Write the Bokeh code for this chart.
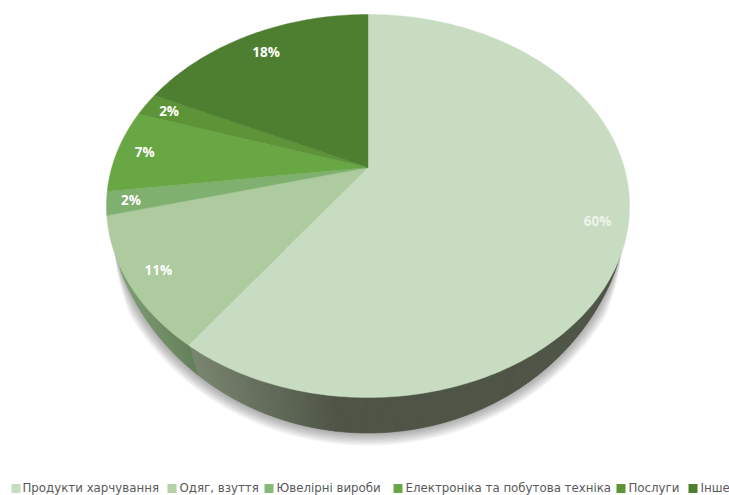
import numpy as np
from bokeh.core.properties import value
from bokeh.embed import file_html
from bokeh.models import ColumnDataSource, Range1d
from bokeh.plotting import figure
from bokeh.resources import INLINE

# Shares of each category, percent
categories = ["Продукти харчування", "Одяг, взуття", "Ювелірні вироби",
              "Електроніка та побутова техніка", "Послуги", "Інше"]
shares = [60, 11, 2, 7, 2, 18]
share_labels = ["60%", "11%", "2%", "7%", "2%", "18%"]
slice_colors = ["#c7dcc0", "#aecb9f", "#7fb070", "#69a644", "#5c9437", "#4e7f31"]
legend_colors = ["#c7dcc0", "#b3d0a6", "#86b878", "#69a644", "#5c9437", "#4e7f31"]

# Where each percent label sits along its slice radius
label_radius = [0.89, 0.89, 0.91, 0.89, 0.89, 0.85]
label_colors = ["#eef4ea", "#ffffff", "#ffffff", "#ffffff", "#ffffff", "#ffffff"]

# Legend layout: swatch left edge and text start, in page pixels
legend_swatch_x = [11, 167, 264, 393, 616, 688]
legend_text_x = [22, 179, 276, 405, 628, 700]

# Perspective projection of the unit disc onto the page
CX, APEX_Y, AX, BY, K = 367.5, 167.0, 256.2, 183.8, 0.201


def project(frac, r=1.0):
    a = np.asarray(frac) * 2 * np.pi
    u, v = r * np.sin(a), r * np.cos(a)
    den = 1 + K * v
    return CX + AX * u / den, APEX_Y - BY * v / den


# Rim of the top face as an ellipse; the lower rim is a taller ellipse
RX, RY, EY = 261.5, 191.5, 205.0


def rim_top(s_ang):
    return CX + RX * np.cos(s_ang), EY + RY * np.sin(s_ang)


def rim_low(s_ang):
    return CX + RX * np.cos(s_ang), 191.0 + 241.5 * np.sin(s_ang)


def rim_low_slanted(s_ang):
    # Wall edges lean toward the middle as they run down to the lower rim
    s = np.sin(s_ang)
    lean = 1 - 0.06 * np.clip((s - 0.28) / 0.72, 0, 1) ** 0.5
    c = np.cos(s_ang) * lean
    return CX + RX * c, 191.0 + 241.5 * np.sqrt(1 - c * c)


p = figure(width=729, height=495, output_backend="svg", toolbar_location=None,
           x_range=Range1d(0, 729), y_range=Range1d(495, 0),
           min_border=0, background_fill_color="white", border_fill_color="white")
p.axis.visible = False
p.grid.visible = False
p.outline_line_color = None

# Soft shadow under the side wall
SIDE_T = np.linspace(np.arcsin(0.24), np.pi - np.arcsin(0.24), 240)
for e in np.arange(14, 0, -1.5):
    s = np.sin(SIDE_T)
    grow = np.clip((s - 0.24) / 0.25, 0, 1) * e
    lx, ly = rim_low(SIDE_T)
    p.patch(lx + grow * np.cos(SIDE_T) * 0.8, ly + grow * s * 0.9,
            fill_color="#3c3c44", fill_alpha=0.05, line_color=None)

# Side wall as narrow strips, shaded from the left round to the right
cum = np.cumsum([0] + shares) / sum(shares)
wall_ts = np.linspace(np.arcsin(0.28), np.pi - np.arcsin(0.30), 300)
sep_x = project(cum[1])[0]


def wall_color(x):
    if x < sep_x:
        f = np.clip((x - 120) / (sep_x - 120), 0, 1)
        c0, c1 = np.array([126, 156, 116]), np.array([100, 128, 90])
    else:
        f = np.clip((x - sep_x) / 150, 0, 1)
        c0, c1 = np.array([122, 134, 112]), np.array([78, 84, 70])
    c = c0 + (c1 - c0) * f
    return "#%02x%02x%02x" % tuple(int(v) for v in c)


wall_xs, wall_ys, wall_cs = [], [], []
for t0, t1 in zip(wall_ts[:-1], wall_ts[1:]):
    seg = np.array([t0, t1 + 0.002])
    tx, ty = rim_top(seg)
    bx, by = rim_low_slanted(seg)
    wall_xs.append(list(tx) + list(bx[::-1]))
    wall_ys.append(list(ty - 2) + list(by[::-1]))
    wall_cs.append(wall_color(float(tx.mean())))
p.patches(wall_xs, wall_ys, fill_color=wall_cs, line_color=wall_cs, line_width=0.5)

# Top face slices
xs, ys = [], []
for start, end in zip(cum[:-1], cum[1:]):
    f = np.linspace(start, end, max(int((end - start) * 360), 3) + 1)
    rx_, ry_ = project(f)
    xs.append([CX] + list(rx_))
    ys.append([APEX_Y] + list(ry_))
p.patches(xs, ys, fill_color=slice_colors, line_color=slice_colors, line_width=0.4)

# Percent labels placed at each slice's angular midpoint
mids = (cum[:-1] + cum[1:]) / 2
lab = [project(m, r) for m, r in zip(mids, label_radius)]
label_src = ColumnDataSource(dict(x=[float(a) for a, _ in lab], y=[float(b) for _, b in lab],
                                  text=share_labels, color=label_colors))
p.text("x", "y", text="text", source=label_src, text_color="color",
       text_font=value("Open Sans"), text_font_style="bold", text_font_size="13.5px",
       text_align="center", text_baseline="middle")

# Legend row
LEGEND_Y = 487.5
p.rect(x=[x + 4.5 for x in legend_swatch_x], y=[LEGEND_Y + 0.5] * 6, width=9, height=9,
       fill_color=legend_colors, line_color=None)
p.text(x=legend_text_x, y=[LEGEND_Y] * 6, text=categories, text_color="#595959",
       text_font=value("DejaVu Sans"), text_font_size="11.8px",
       text_align="left", text_baseline="middle")

open("out.html", "w").write(file_html(p, INLINE))
